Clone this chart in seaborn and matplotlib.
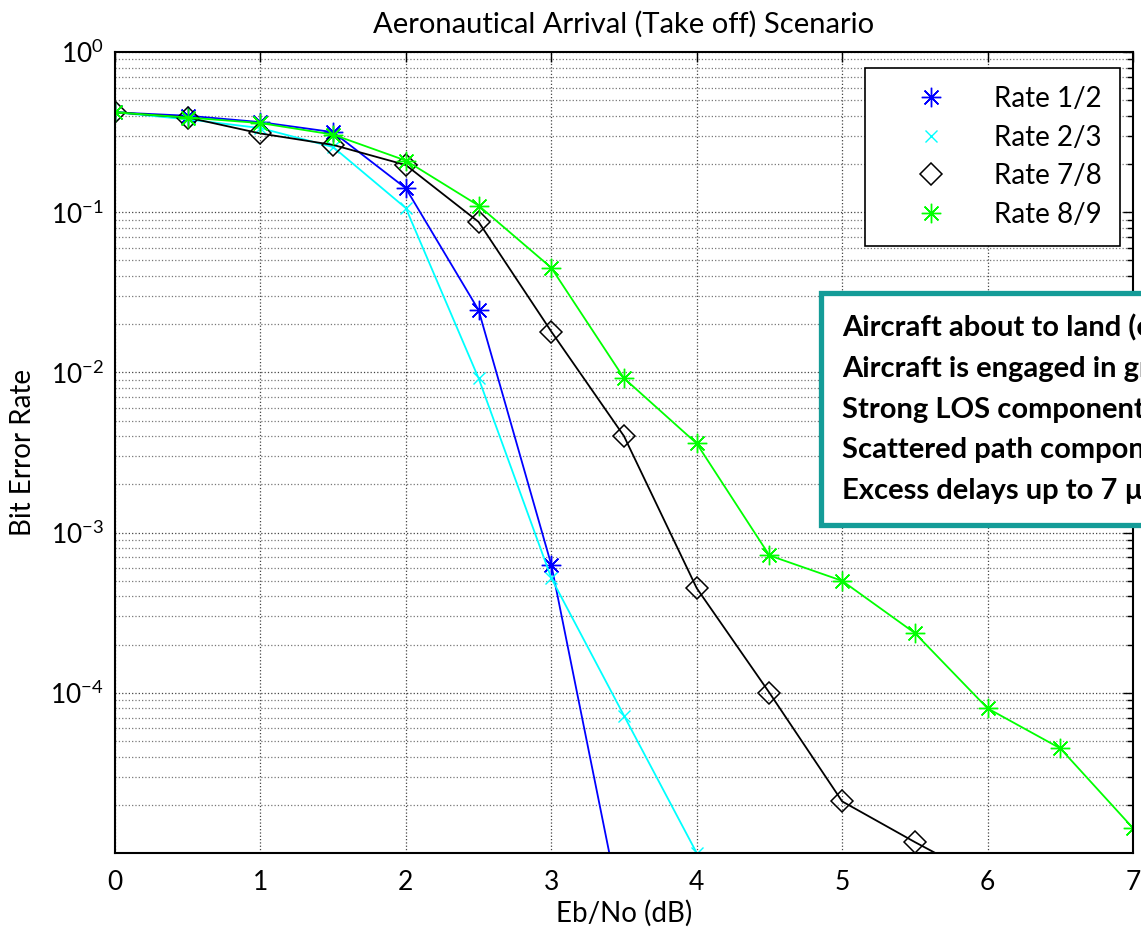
import numpy as np
import pandas as pd
import matplotlib
matplotlib.use("Agg")
import matplotlib.pyplot as plt
import seaborn as sns
from matplotlib.ticker import LogLocator, NullFormatter, FixedLocator

# --- data ---
ebno = [0, 0.5, 1, 1.5, 2, 2.5, 3, 3.5, 4, 4.5, 5, 5.5, 6, 6.5, 7]

ber_r12 = [0.42, 0.40, 0.365, 0.316, 0.141, 0.0245, 6.3e-4, 3.5e-6]
ber_r23 = [0.42, 0.38, 0.335, 0.255, 0.106, 9.2e-3, 5.2e-4, 7.2e-5, 1.0e-5]
ber_r78 = [0.42, 0.39, 0.31, 0.263, 0.197, 0.087, 0.018, 4.0e-3, 4.5e-4,
           1.0e-4, 2.1e-5, 1.17e-5, 6.7e-6]
ber_r89 = [0.42, 0.39, 0.36, 0.305, 0.21, 0.11, 0.045, 9.2e-3, 3.6e-3,
           7.2e-4, 5.0e-4, 2.36e-4, 8.0e-5, 4.5e-5, 1.43e-5]

rates = ["Rate 1/2", "Rate 2/3", "Rate 7/8", "Rate 8/9"]
series = [ber_r12, ber_r23, ber_r78, ber_r89]
colors = ["#0000ff", "#00ffff", "#000000", "#00ff00"]

notes = [
    "Aircraft about to land (or take off)",
    "Aircraft is engaged in gradual descent",
    "Strong LOS component present",
    "Scattered path components",
    "Excess delays up to 7 \u00b5s",
]

rows = []
for name, vals in zip(rates, series):
    for x, y in zip(ebno, vals):
        rows.append({"Eb/No": x, "BER": y, "Rate": name})
df = pd.DataFrame(rows)

sns.set_style("white")
plt.rcParams["font.family"] = ["Lato", "DejaVu Sans"]
plt.rcParams["text.color"] = "black"
plt.rcParams["axes.labelcolor"] = "black"

fig = plt.figure(figsize=(11.41, 9.33), dpi=100)
ax = fig.add_axes([115 / 1141, 80 / 933, 1018 / 1141, 801 / 933])

marker_style = {
    "Rate 1/2": dict(marker=(8, 2, 0), markersize=14, markeredgewidth=1.0),
    "Rate 2/3": dict(marker="x", markersize=8, markeredgewidth=1.0),
    "Rate 7/8": dict(marker="D", markersize=11, markeredgewidth=1.1,
                     markerfacecolor="none"),
    "Rate 8/9": dict(marker=(8, 2, 0), markersize=14, markeredgewidth=1.0),
}

for name, col in zip(rates, colors):
    sub = df[df["Rate"] == name]
    sns.lineplot(data=sub, x="Eb/No", y="BER", ax=ax, color=col, label=name,
                 linewidth=1.3, markeredgecolor=col, **marker_style[name])

ax.set_yscale("log")
ax.set_xlim(0, 7)
ax.set_ylim(1.0e-5, 1)

ax.set_xticks(range(0, 8))
ax.set_xticklabels([str(i) for i in range(0, 8)])
ytk = [1e0, 1e-1, 1e-2, 1e-3, 1e-4]
ax.yaxis.set_major_locator(FixedLocator(ytk))
ax.set_yticklabels([r"$\mathregular{10^{%d}}$" % int(np.log10(v)) for v in ytk])
ax.yaxis.set_minor_locator(LogLocator(base=10, subs=np.arange(2, 10), numticks=30))
ax.yaxis.set_minor_formatter(NullFormatter())

ax.tick_params(which="both", direction="in", top=True, right=True,
               labelsize=19, colors="black")
ax.tick_params(which="major", length=7, width=1.0)
ax.tick_params(which="minor", length=4, width=1.0)
ax.tick_params(axis="x", pad=12)
ax.tick_params(axis="y", pad=8)

ax.grid(which="major", linestyle=":", color="#444444", linewidth=0.9)
ax.grid(which="minor", axis="y", linestyle=":", color="#777777", linewidth=0.9)
for sp in ax.spines.values():
    sp.set_color("black")
    sp.set_linewidth(1.5)

ax.set_xlabel("Eb/No (dB)", fontsize=20, labelpad=4)
ax.set_ylabel("Bit Error Rate", fontsize=20, labelpad=10)
ax.set_title("Aeronautical Arrival (Take off) Scenario", fontsize=21, pad=14)

leg = ax.legend(loc="upper right", bbox_to_anchor=(0.987, 0.980),
                borderaxespad=0, fontsize=20, frameon=True, fancybox=False,
                edgecolor="black", handlelength=3.5, handletextpad=0.5,
                borderpad=0.65, labelspacing=0.45, markerscale=1.0)
leg.get_frame().set_linewidth(1.2)
leg.get_frame().set_alpha(1)
for h in leg.get_lines():
    h.set_linestyle("none")

fig.text(842 / 1141, 1 - 314 / 933, "\n".join(notes), fontsize=21,
         fontweight="bold", va="top", ha="left", linespacing=1.7,
         bbox=dict(boxstyle="square,pad=0.72", facecolor="white",
                   edgecolor="#149c98", linewidth=3.8))

fig.savefig("out.png", dpi=100)
